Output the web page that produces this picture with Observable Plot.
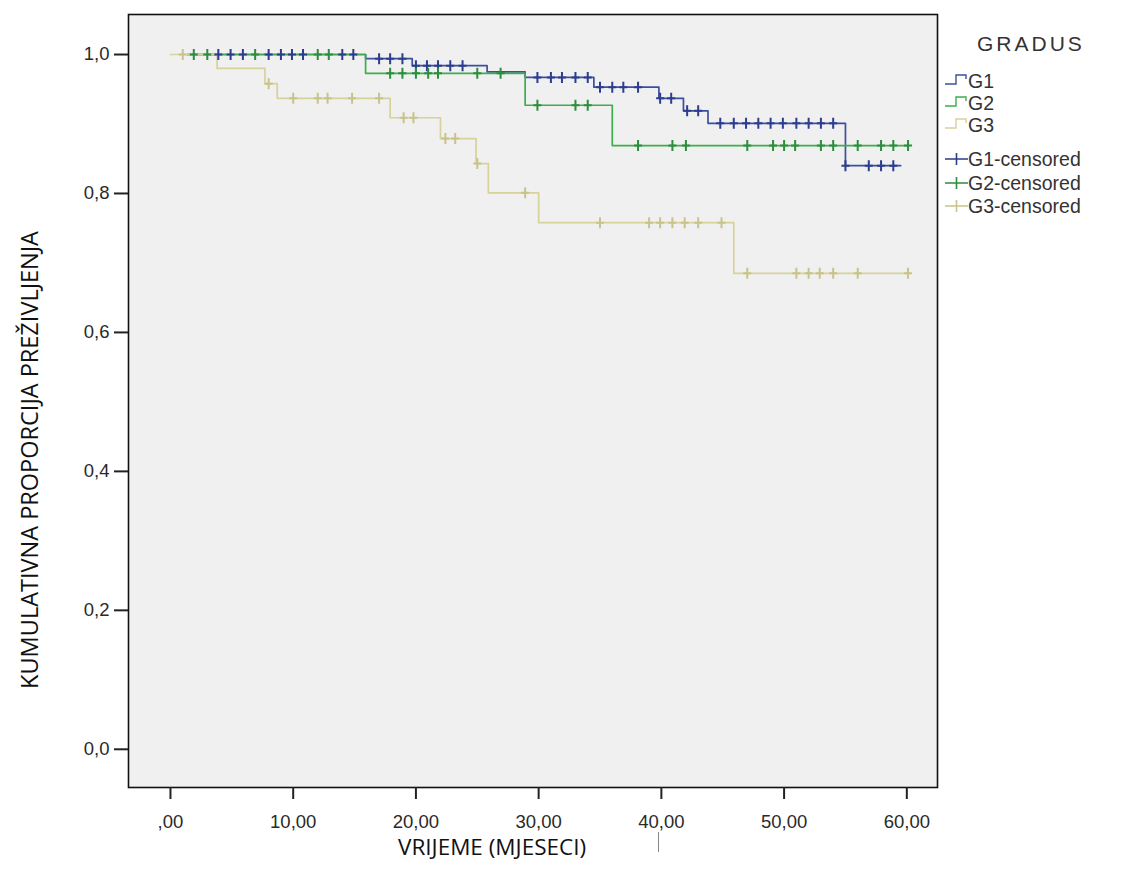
<!DOCTYPE html>
<html><head><meta charset="utf-8">
<script src="https://cdn.jsdelivr.net/npm/d3@7"></script>
<script src="https://cdn.jsdelivr.net/npm/@observablehq/plot@0.6"></script>
<style>
body{margin:0;background:#fff;}
#wrap{position:relative;width:1127px;height:886px;overflow:hidden;}
#wrap > svg{position:absolute;left:0;top:0;}
#wrap > svg g[aria-label$="tick label"], #wrap > svg g[aria-label$="tick label"] text{font-size:18.5px !important;}
.lg{position:absolute;font-family:"Liberation Sans",Arial,sans-serif;color:#333;white-space:nowrap;}
.item{position:absolute;left:945px;height:22px;font-size:19.5px;line-height:22px;font-family:"Liberation Sans",Arial,sans-serif;color:#333;white-space:nowrap;}
.item svg{vertical-align:top;}
.ttl{position:absolute;font-family:"Open Sans","Liberation Sans",sans-serif;color:#111;white-space:nowrap;line-height:1;}
</style></head><body><div id="wrap"></div>
<script>
// ---- data ----
const groups = ["G1", "G2", "G3"];
const groupColors = ["#3C4F9F", "#3DAE4B", "#D6D29A"];
const censorColors = ["#2C3D8C", "#2E8C3E", "#C9C28A"];

// Kaplan-Meier steps: time (months) and cumulative survival
const g1Times = [1.4, 15.9, 19.7, 25.8, 28.9, 34.5, 39.8, 41.8, 43.8, 55.0, 59.5];
const g1Surv  = [1.0, 0.994, 0.984, 0.975, 0.967, 0.953, 0.937, 0.919, 0.901, 0.840, 0.840];
const g2Times = [1.4, 15.9, 28.9, 36.0, 60.0];
const g2Surv  = [1.0, 0.973, 0.927, 0.869, 0.869];
const g3Times = [0, 3.8, 7.7, 8.7, 17.9, 22.0, 24.9, 25.9, 30.0, 45.9, 60.2];
const g3Surv  = [1.0, 0.980, 0.958, 0.937, 0.909, 0.879, 0.843, 0.801, 0.758, 0.685, 0.685];

// censored times
const g1Censored = [3.9, 4.9, 5.9, 8.0, 9.0, 9.9, 10.8, 14.0, 14.9, 17.0, 17.9, 18.9, 20.0, 20.9, 21.8, 22.8, 23.8,
  29.9, 31.0, 31.9, 33.0, 34.0, 35.0, 36.0, 36.9, 38.1, 39.9, 40.8, 42.1, 43.0,
  44.8, 45.9, 46.9, 47.9, 48.9, 49.9, 51.0, 52.0, 53.0, 54.0, 55.0, 56.9, 57.9, 58.9];
const g2Censored = [1.9, 3.0, 6.9, 12.0, 12.9, 17.9, 18.9, 20.0, 21.0, 21.8, 25.0, 26.9, 29.9, 33.0, 34.0,
  38.1, 40.9, 42.0, 47.0, 49.1, 50.0, 50.9, 53.0, 54.0, 56.0, 57.9, 58.9, 60.1];
const g3Censored = [1.0, 8.0, 10.0, 12.0, 12.8, 14.8, 17.0, 19.0, 19.8, 22.4, 23.2, 25.0, 28.9,
  35.0, 39.0, 39.9, 40.9, 41.9, 43.0, 44.9, 47.0, 51.0, 52.0, 52.9, 54.0, 56.0, 60.1];

const xTicks = [0, 10, 20, 30, 40, 50, 60];
const xTickLabels = [",00", "10,00", "20,00", "30,00", "40,00", "50,00", "60,00"];
const yTicks = [0, 0.2, 0.4, 0.6, 0.8, 1.0];
const yTickLabels = ["0,0", "0,2", "0,4", "0,6", "0,8", "1,0"];
const legendTitle = "GRADUS";
const legendLabels = ["G1", "G2", "G3", "G1-censored", "G2-censored", "G3-censored"];
const xTitle = "VRIJEME (MJESECI)";
const yTitle = "KUMULATIVNA PROPORCIJA PREŽIVLJENJA";

// ---- build tables ----
const stepsAll = [[g1Times, g1Surv], [g2Times, g2Surv], [g3Times, g3Surv]];
const censAll = [g1Censored, g2Censored, g3Censored];
function survAt(times, surv, t) { let s = surv[0]; for (let i = 0; i < times.length; i++) if (times[i] <= t + 1e-9) s = surv[i]; return s; }
const lineData = [], censData = [];
groups.forEach((g, k) => {
  const [T, S] = stepsAll[k];
  T.forEach((t, i) => lineData.push({group: g, t, s: S[i]}));
  censAll[k].forEach(t => censData.push({group: g, t, s: survAt(T, S, t)}));
});

const censorSymbol = {draw(ctx, size) { ctx.moveTo(0, -5.5); ctx.lineTo(0, 5.5); ctx.moveTo(-4, 0); ctx.lineTo(4, 0); }};

const marks = [Plot.frame({fill: "#F0F0F0"})];
groups.forEach((g, k) => {
  marks.push(Plot.line(lineData.filter(d => d.group === g), {x: "t", y: "s", curve: "step-after", stroke: groupColors[k], strokeWidth: 1.7}));
});
groups.forEach((g, k) => {
  marks.push(Plot.dot(censData.filter(d => d.group === g), {x: "t", y: "s", symbol: censorSymbol, r: 4, fill: "none", stroke: censorColors[k], strokeWidth: 2}));
});
marks.push(Plot.frame({stroke: "#111", strokeWidth: 1.6}));
marks.push(Plot.axisX({ticks: xTicks, tickFormat: d => xTickLabels[xTicks.indexOf(d)], tickSize: 12, tickPadding: 15, strokeWidth: 2, stroke: "#222", fill: "#2a2a2a", fontSize: 18.5, label: null}));
marks.push(Plot.axisY({ticks: yTicks, tickFormat: d => yTickLabels[yTicks.findIndex(v => Math.abs(v - d) < 1e-9)], tickSize: 14, tickPadding: 5, strokeWidth: 2, stroke: "#222", fill: "#2a2a2a", fontSize: 18.5, label: null}));

const chart = Plot.plot({
  width: 1127, height: 886,
  marginLeft: 128, marginTop: 14, marginRight: 190, marginBottom: 99,
  x: {domain: [-3.42, 62.5]},
  y: {domain: [-0.055, 1.0576]},
  style: {fontSize: "18.5px", fontFamily: "'Liberation Sans', Arial, sans-serif", background: "white", overflow: "visible"},
  marks
});
const wrap = document.getElementById("wrap");
wrap.appendChild(chart);

// legend
const t = document.createElement("div");
t.className = "lg"; t.style.left = "977px"; t.style.top = "32px"; t.style.fontSize = "21px"; t.style.letterSpacing = "3px"; t.textContent = legendTitle;
wrap.appendChild(t);
const rowY = [81, 103, 125, 159, 183, 206];
legendLabels.forEach((lab, i) => {
  const k = i % 3, cens = i >= 3;
  const div = document.createElement("div");
  div.className = "item"; div.style.top = (rowY[i] - 11) + "px";
  const col = cens ? censorColors[k] : groupColors[k];
  const sym = cens
    ? `<path d="M0,11H23M11.5,5V17" stroke="${col}" stroke-width="1.6" fill="none"/>`
    : `<path d="M0,14H11V5H21V9" stroke="${col}" stroke-width="1.4" fill="none"/>`;
  div.innerHTML = `<svg width="23" height="22">${sym}</svg><span>${lab}</span>`;
  wrap.appendChild(div);
});

// axis titles
const xt = document.createElement("div");
xt.className = "ttl"; xt.textContent = xTitle; xt.style.fontSize = "22.5px"; xt.style.left = "398px"; xt.style.top = "836px";
wrap.appendChild(xt);
const yt = document.createElement("div");
yt.className = "ttl"; yt.textContent = yTitle; yt.style.fontSize = "23.5px";
yt.style.left = "30px"; yt.style.top = "460px"; yt.style.transform = "translate(-50%,-50%) rotate(-90deg)";
wrap.appendChild(yt);
// small stray mark below the axis
const sm = document.createElement("div");
sm.style.cssText = "position:absolute;left:658px;top:832px;width:1px;height:20px;background:#888;";
wrap.appendChild(sm);
</script></body></html>
